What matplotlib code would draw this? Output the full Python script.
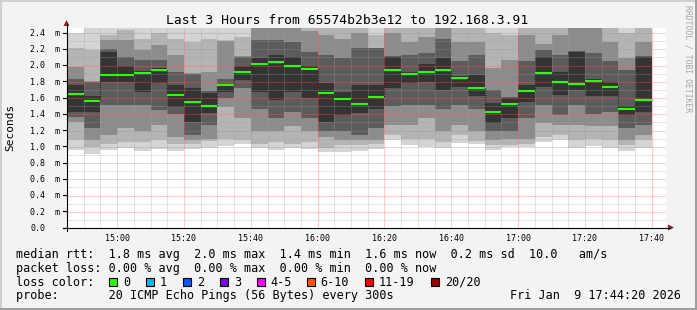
import numpy as np
import matplotlib
matplotlib.use("Agg")
import matplotlib.pyplot as plt
from matplotlib.patches import Rectangle, Polygon
from matplotlib.lines import Line2D

# ---------------- data (milliseconds) ----------------
bar_times = ["14:45", "14:50", "14:55", "15:00", "15:05", "15:10", "15:15", "15:20",
             "15:25", "15:30", "15:35", "15:40", "15:45", "15:50", "15:55", "16:00",
             "16:05", "16:10", "16:15", "16:20", "16:25", "16:30", "16:35", "16:40",
             "16:45", "16:50", "16:55", "17:00", "17:05", "17:10", "17:15", "17:20",
             "17:25", "17:30", "17:35"]

median_rtt = [1.646, 1.567, 1.883, 1.883, 1.91, 1.95, 1.637, 1.555, 1.50, 1.76, 1.924, 2.02,
              2.047, 1.994, 1.96, 1.665, 1.588, 1.526, 1.616, 1.945, 1.90, 1.924, 1.95, 1.85,
              1.727, 1.43, 1.53, 1.69, 1.91, 1.80, 1.776, 1.81, 1.74, 1.468, 1.57]

# sorted ping ranks per 5-minute step (smoke)
rtt_min = [0.96, 0.91, 0.96, 0.99, 0.95, 0.97, 0.95, 0.97, 0.98, 1.01, 1.04, 0.99, 0.96, 0.98,
           0.97, 0.93, 0.94, 0.95, 0.97, 1.08, 1.02, 1.00, 0.99, 1.05, 1.04, 0.96, 1.00, 1.00,
           1.06, 1.08, 0.99, 1.01, 0.98, 0.95, 0.98]
rtt_p03 = [1.08, 1.00, 1.04, 1.06, 1.06, 1.08, 1.04, 1.04, 1.07, 1.10, 1.08, 1.03, 1.06, 1.04,
           1.06, 0.98, 1.02, 1.02, 1.03, 1.15, 1.10, 1.10, 1.06, 1.15, 1.07, 1.02, 1.02, 1.04,
           1.12, 1.15, 1.08, 1.10, 1.08, 1.02, 1.08]
rtt_p05 = [1.31, 1.08, 1.15, 1.23, 1.20, 1.27, 1.12, 1.08, 1.10, 1.49, 1.35, 1.20, 1.19, 1.25,
           1.19, 1.12, 1.08, 1.08, 1.08, 1.27, 1.27, 1.35, 1.20, 1.27, 1.19, 1.08, 1.10, 1.10,
           1.29, 1.27, 1.27, 1.25, 1.25, 1.08, 1.15]
rtt_p07 = [1.37, 1.23, 1.51, 1.51, 1.51, 1.45, 1.40, 1.15, 1.27, 1.60, 1.72, 1.47, 1.35, 1.43,
           1.35, 1.20, 1.19, 1.15, 1.23, 1.50, 1.51, 1.51, 1.47, 1.51, 1.47, 1.19, 1.19, 1.35,
           1.51, 1.39, 1.51, 1.40, 1.43, 1.23, 1.27]
rtt_p09 = [1.43, 1.43, 1.80, 1.80, 1.68, 1.78, 1.49, 1.31, 1.41, 1.68, 1.82, 1.68, 1.58, 1.68,
           1.60, 1.31, 1.39, 1.41, 1.47, 1.72, 1.78, 1.80, 1.70, 1.74, 1.62, 1.29, 1.35, 1.555,
           1.74, 1.64, 1.70, 1.62, 1.62, 1.39, 1.43]
rtt_p12 = [1.76, 1.62, 2.17, 2.00, 1.93, 1.965, 1.76, 1.72, 1.66, 1.77, 1.99, 2.09, 2.13, 2.11,
           1.99, 1.78, 1.68, 1.76, 1.76, 2.11, 1.92, 2.02, 2.09, 1.87, 1.885, 1.535, 1.60, 1.76,
           2.11, 1.92, 2.17, 1.83, 1.80, 1.50, 2.11]
rtt_p14 = [1.84, 1.80, 2.20, 2.11, 2.07, 2.07, 1.92, 1.90, 1.69, 1.84, 2.11, 2.31, 2.31, 2.29,
           2.17, 2.13, 2.09, 2.21, 2.21, 2.115, 2.13, 2.15, 2.33, 2.05, 2.13, 1.70, 1.61, 2.05,
           2.19, 2.13, 2.18, 2.15, 2.05, 1.945, 2.12]
rtt_p16 = [1.985, 1.81, 2.31, 2.31, 2.19, 2.25, 2.13, 1.91, 1.92, 2.30, 2.12, 2.50, 2.52, 2.50,
           2.42, 2.375, 2.33, 2.40, 2.22, 2.40, 2.29, 2.35, 2.50, 2.29, 2.29, 1.965, 2.07, 2.375,
           2.27, 2.375, 2.50, 2.50, 2.29, 2.09, 2.29]
rtt_p18 = [2.21, 2.19, 2.38, 2.44, 2.33, 2.40, 2.33, 2.29, 2.33, 2.32, 2.35, 2.60, 2.62, 2.60,
           2.50, 2.46, 2.46, 2.46, 2.375, 2.46, 2.46, 2.46, 2.60, 2.46, 2.46, 2.40, 2.375, 2.46,
           2.46, 2.46, 2.60, 2.60, 2.46, 2.40, 2.46]
rtt_max = [2.395, 2.46, 2.46, 2.46, 2.46, 2.46, 2.46, 2.46, 2.46, 2.46, 2.46, 2.70, 2.72, 2.70,
           2.60, 2.50, 2.50, 2.50, 2.46, 2.50, 2.50, 2.50, 2.70, 2.50, 2.50, 2.46, 2.46, 2.50,
           2.50, 2.50, 2.70, 2.70, 2.50, 2.46, 2.50]

x_tick_labels = ["15:00", "15:20", "15:40", "16:00", "16:20", "16:40", "17:00", "17:20", "17:40"]
y_tick_values = [0.0, 0.2, 0.4, 0.6, 0.8, 1.0, 1.2, 1.4, 1.6, 1.8, 2.0, 2.2, 2.4]

title = "Last 3 Hours from 65574b2b3e12 to 192.168.3.91"
legend_line1 = "median rtt:  1.8 ms avg  2.0 ms max  1.4 ms min  1.6 ms now  0.2 ms sd  10.0   am/s"
legend_line2 = "packet loss: 0.00 % avg  0.00 % max  0.00 % min  0.00 % now"
loss_labels = ["0", "1", "2", "3", "4-5", "6-10", "11-19", "20/20"]
loss_colors = ["#26ff00", "#00b8ff", "#0059ff", "#7e00ff", "#ff00ff", "#ff5500", "#ff0000", "#a10000"]
probe_text = "probe:       20 ICMP Echo Pings (56 Bytes) every 300s"
date_text = "Fri Jan  9 17:44:20 2026"

# ---------------- layout ----------------
W, H, DPI = 697, 310, 100
MONO = "DejaVu Sans Mono"
fig = plt.figure(figsize=(W / DPI, H / DPI), dpi=DPI, facecolor="#f3f3f3")

X0, X1 = 67.0, 666.3      # plot area in px
Y0, Y1 = 228.0, 28.0      # bottom / top px (from top)
PX_PER_MS = 81.25
t0 = 14 * 60 + 45
t_end = 17 * 60 + 44 + 20 / 60.0

def tmin(s):
    h, m = s.split(":")
    return int(h) * 60 + int(m) - t0

ax = fig.add_axes([X0 / W, (H - Y0) / H, (X1 - X0) / W, (Y0 - Y1) / H])
ax.set_xlim(0, t_end - t0)
ax.set_ylim(0, (Y0 - Y1) / PX_PER_MS)
ax.set_facecolor("white")
for s in ax.spines.values():
    s.set_visible(False)
ax.set_xticks([])
ax.set_yticks([])

x_left = np.array([tmin(t) for t in bar_times], dtype=float)
edges = np.append(x_left, x_left[-1] + 5)

def ext(a):
    a = list(a)
    return np.array(a + [a[-1]])

layers = [(rtt_min, rtt_max, "#d4d4d4"),
          (rtt_p03, rtt_p18, "#b4b4b4"),
          (rtt_p05, rtt_p16, "#8c8c8c"),
          (rtt_p07, rtt_p14, "#5c5c5c"),
          (rtt_p09, rtt_p12, "#343434")]
for lo, hi, c in layers:
    ax.fill_between(edges, ext(lo), ext(hi), step="post", color=c, linewidth=0, zorder=1)

# grid (drawn over the smoke)
minor_x = [m for m in range(5, 180, 5)]
major_x = [tmin(t) for t in x_tick_labels]
for m in minor_x:
    if m not in major_x:
        ax.axvline(m, color="#a0a0a0", alpha=0.55, lw=0.72, ls=(0, (1, 1)), zorder=3)
for m in major_x:
    ax.axvline(m, color="#ff6060", alpha=0.6, lw=0.72, ls=(0, (1, 1)), zorder=3)
for k in range(1, 25):
    v = k * 0.1
    if k % 2 == 1:
        ax.axhline(v, color="#a0a0a0", alpha=0.55, lw=0.72, ls=(0, (1, 1)), zorder=3)
    else:
        ax.axhline(v, color="#ff6060", alpha=0.6, lw=0.72, ls=(0, (1, 1)), zorder=3)

# median: dark step + green loss-coloured segments
ax.step(edges, ext(median_rtt), where="post", color="#1a1a1a", lw=0.8,
        ls=(0, (1, 1)), zorder=4)
ax.hlines(median_rtt, x_left, x_left + 5, color=loss_colors[0], lw=1.5, zorder=5)

# ---------------- axes lines & arrows (pixel coords) ----------------
def P(x, y):
    return (x, H - y)

fig.add_artist(Line2D([66.5, 66.5], [H - 231, H - 24], transform=None, color="black", lw=0.8))
fig.add_artist(Line2D([63, 670], [H - 227.5, H - 227.5], transform=None, color="black", lw=0.8))
fig.add_artist(Polygon([P(63.5, 26), P(69.5, 26), P(66.5, 20)], closed=True, transform=None,
                       facecolor="#9b1c1c", edgecolor="none"))
fig.add_artist(Polygon([P(668, 224.5), P(668, 230.5), P(674, 227.5)], closed=True, transform=None,
                       facecolor="#9b1c1c", edgecolor="none"))
# y ticks
for v in y_tick_values:
    yp = Y0 - v * PX_PER_MS
    fig.add_artist(Line2D([63, 66.5], [H - yp + 0.5, H - yp + 0.5], transform=None, color="black", lw=0.8))

# ---------------- texts ----------------
def ftext(x, y, s, **kw):
    fig.text(x / W, 1 - y / H, s, **kw)

for v in y_tick_values:
    yp = Y0 - v * PX_PER_MS
    lab = "0.0" if v == 0 else "%.1f  m" % v
    ftext(30, yp + 3, lab, family=MONO, fontsize=6, va="baseline", ha="left", color="black")

for lab in x_tick_labels:
    xp = X0 + tmin(lab) * (X1 - X0) / (t_end - t0)
    ftext(xp, 240.7, lab, family=MONO, fontsize=6, va="baseline", ha="center", color="black")

ftext(347.5, 23.8, title, family=MONO, fontsize=9.4, ha="center", va="baseline", color="black")
ftext(10.5, 127.5, "Seconds", family=MONO, fontsize=8, rotation=90, ha="center", va="center",
      color="black")
ftext(688, 5, "RRDTOOL / TOBI OETIKER", family=MONO, fontsize=5.8, rotation=270,
      ha="center", va="top", color="#a5a5a5")

ftext(16, 258.3, legend_line1, family=MONO, fontsize=8.5, va="baseline", ha="left")
ftext(16, 272.0, legend_line2, family=MONO, fontsize=8.5, va="baseline", ha="left")
ftext(16, 285.7, "loss color:", family=MONO, fontsize=8.5, va="baseline", ha="left")
box_x = [109, 145.7, 182.7, 220, 256.7, 306.7, 365, 430.7]
for bx, lab, col in zip(box_x, loss_labels, loss_colors):
    fig.add_artist(Rectangle((bx, H - 285.5), 8, 8, transform=None, facecolor=col,
                             edgecolor="black", lw=0.8))
    ftext(bx + 14, 285.7, lab, family=MONO, fontsize=8.5, va="baseline", ha="left")
ftext(16, 299.4, probe_text, family=MONO, fontsize=8.5, va="baseline", ha="left")
ftext(681, 299.4, date_text, family=MONO, fontsize=8.5, va="baseline", ha="right")

# 3D border
fig.add_artist(Rectangle((0, H - 2), W, 2, transform=None, facecolor="#cfcfcf", edgecolor="none"))
fig.add_artist(Rectangle((0, 0), 2, H, transform=None, facecolor="#cfcfcf", edgecolor="none"))
fig.add_artist(Rectangle((0, 0), W, 2.5, transform=None, facecolor="#9e9e9e", edgecolor="none"))
fig.add_artist(Rectangle((W - 2.5, 0), 2.5, H, transform=None, facecolor="#9e9e9e", edgecolor="none"))

fig.savefig("out.png", dpi=DPI, facecolor=fig.get_facecolor())
